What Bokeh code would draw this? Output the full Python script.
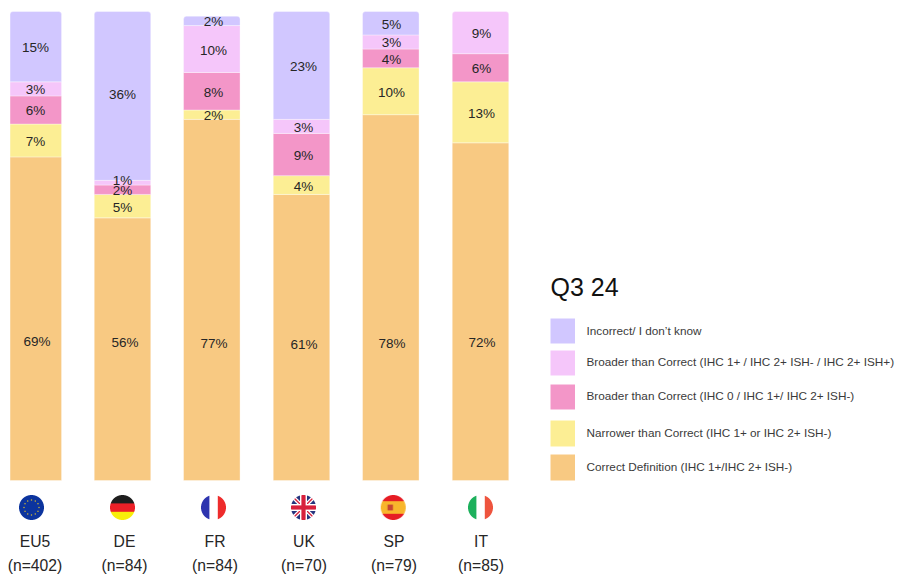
import numpy as np
from bokeh.embed import file_html
from bokeh.resources import INLINE
from bokeh.plotting import figure
from bokeh.models import Range1d, ColumnDataSource
from bokeh.core.properties import value

# ---- data ----
categories = ["EU5", "DE", "FR", "UK", "SP", "IT"]
sample_sizes = ["(n=402)", "(n=84)", "(n=84)", "(n=70)", "(n=79)", "(n=85)"]
correct = [69, 56, 77, 61, 78, 72]
narrower = [7, 5, 2, 4, 10, 13]
broader_ihc0 = [6, 2, 8, 9, 4, 6]
broader_ihc1 = [3, 1, 10, 3, 3, 9]
incorrect = [15, 36, 2, 23, 5, 0]
series_names = [
    "Correct Definition (IHC 1+/IHC 2+ ISH-)",
    "Narrower than Correct (IHC 1+ or IHC 2+ ISH-)",
    "Broader than Correct (IHC 0 / IHC 1+/ IHC 2+ ISH-)",
    "Broader than Correct (IHC 1+ / IHC 2+ ISH- / IHC 2+ ISH+)",
    "Incorrect/ I don\u2019t know",
]
series_values = [correct, narrower, broader_ihc0, broader_ihc1, incorrect]
legend_title = "Q3 24"

# ---- layout and style ----
W, H = 895, 574
OX, OY = 1, 1
BASE_Y, PX_PER_PCT = 481, 4.69
colors = ["#F8C982", "#FCEE94", "#F396C8", "#F5C6FA", "#D1C7FF"]
bar_centers = [36.3, 123, 212.3, 302, 391.3, 481]
bar_widths = [51.5, 56.5, 56.5, 56.5, 56.5, 56.5]
value_label_x = [36, 123, 214, 304, 392, 482]
bottom_label_x = [37.5, 125.5, 214.5, 304.5, 392.5, 482.5]
bottom_label_y = [341, 342, 343, 344, 343, 342]
name_label_x = [35.5, 125, 215.5, 304.5, 394.5, 481.5]
flag_x = [32, 123, 214, 304, 393.7, 481]
FLAG_Y, FLAG_D = 508, 25
swatch_tops = [455, 421, 385, 351, 319]
swatch_bottoms = [481, 447, 410, 376, 344]
legend_text_y = [467, 433, 396, 362, 331]
FONT = value("Liberation Sans")
INK = "#262626"


def px_x(x):
    return x - OX


def px_y(y):
    return OY + H - y


p = figure(
    width=W, height=H, output_backend="svg", toolbar_location=None,
    x_range=Range1d(0, W),
    y_range=Range1d((BASE_Y - (OY + H)) / PX_PER_PCT, (BASE_Y - OY) / PX_PER_PCT),
    min_border=0, outline_line_color=None, background_fill_color="white",
)
p.extra_y_ranges = {"px": Range1d(0, H)}
p.xaxis.visible = False
p.yaxis.visible = False
p.grid.visible = False

# ---- stacked bars: the topmost segment of each bar has rounded corners ----
bottoms = np.zeros(len(categories))
xs = np.array([px_x(c) for c in bar_centers])
widths = np.array(bar_widths)
top_series = [max(i for i, s in enumerate(series_values) if s[k] > 0) for k in range(len(categories))]
labels = dict(x=[], y=[], t=[], dy=[])
for i, (vals, col) in enumerate(zip(series_values, colors)):
    vals = np.array(vals, dtype=float)
    tops = bottoms + vals
    plain = [k for k in range(len(vals)) if vals[k] > 0 and top_series[k] != i]
    capped = [k for k in range(len(vals)) if vals[k] > 0 and top_series[k] == i]
    for idx, radius in ((plain, 0), (capped, (3, 3, 0, 0))):
        if idx:
            p.vbar(x=xs[idx], width=widths[idx], bottom=bottoms[idx], top=tops[idx],
                   fill_color=col, line_color="white", line_alpha=0.35, line_width=1,
                   border_radius=radius)
    for k in range(len(vals)):
        if vals[k] <= 0:
            continue
        if i == 0:
            labels["x"].append(px_x(bottom_label_x[k]))
            labels["y"].append((BASE_Y - bottom_label_y[k]) / PX_PER_PCT)
            labels["dy"].append(1)
        else:
            labels["x"].append(px_x(value_label_x[k]))
            labels["y"].append((bottoms[k] + tops[k]) / 2)
            labels["dy"].append(-2 if vals[k] <= 1 else (-1 if vals[k] >= 30 else 1))
        labels["t"].append(f"{int(vals[k])}%")
    bottoms = tops

p.text(x="x", y="y", text="t", y_offset="dy", source=ColumnDataSource(labels), text_font=FONT,
       text_font_size="13.5px", text_align="center", text_baseline="middle", text_color=INK)


# ---- flags (decorative, drawn as small antialiased images) ----
def flag(code, d=FLAG_D + 4, ss=5):
    n = d * ss
    yy, xx = np.mgrid[0:n, 0:n]
    u = (xx + 0.5) / n * d - d / 2          # px from centre, right +
    v = (yy + 0.5) / n * d - d / 2          # px from centre, down +
    r = FLAG_D / 2
    img = np.ones((n, n, 3)) * 255.0

    def paint(mask, c):
        img[mask] = c

    if code == "EU5":
        paint(np.ones_like(u, bool), (12, 52, 158))
        for a in np.arange(12) * np.pi / 6:
            paint((u - 7.5 * np.cos(a)) ** 2 + (v - 7.5 * np.sin(a)) ** 2 < 0.55, (190, 170, 60))
    elif code == "DE":
        paint(v < -4.2, (30, 30, 30))
        paint((v >= -4.2) & (v < 4.2), (236, 32, 39))
        paint(v >= 4.2, (248, 238, 10))
    elif code == "FR":
        paint(u < -4.2, (45, 52, 175))
        paint(u >= 4.2, (238, 44, 44))
    elif code == "UK":
        paint(np.ones_like(u, bool), (38, 52, 125))
        paint(np.abs(np.abs(u) - np.abs(v)) < 2.8, (255, 255, 255))
        paint(np.abs(np.abs(u) - np.abs(v)) < 1.0, (216, 32, 60))
        paint((np.abs(u) < 3.6) | (np.abs(v) < 3.6), (255, 255, 255))
        paint((np.abs(u) < 2.1) | (np.abs(v) < 2.1), (216, 32, 60))
    elif code == "SP":
        paint(np.ones_like(u, bool), (230, 28, 36))
        paint(np.abs(v) < 6.3, (248, 182, 44))
        paint((np.abs(u + 3) < 2.6) & (np.abs(v) < 3.0), (200, 70, 50))
    elif code == "IT":
        paint(u < -4.2, (28, 176, 92))
        paint(u >= 4.2, (238, 84, 62))

    alpha = np.where(u ** 2 + v ** 2 <= r ** 2, 255.0, 0.0)
    rgba = np.dstack([img, alpha]).reshape(d, ss, d, ss, 4)
    a = rgba[..., 3:].mean(axis=(1, 3))
    rgb = (rgba[..., :3] * rgba[..., 3:] / 255.0).mean(axis=(1, 3))
    rgb = np.where(a > 0, rgb / np.maximum(a / 255.0, 1e-6), 255.0)
    out = np.dstack([rgb, a]).clip(0, 255).astype(np.uint8)
    res = np.empty((d, d), dtype=np.uint32)
    res.view(dtype=np.uint8).reshape(d, d, 4)[:] = out
    return res[::-1]


D = FLAG_D + 4
for code, fx in zip(categories, flag_x):
    p.image_rgba(image=[flag(code)], x=px_x(fx) - D / 2, y=px_y(FLAG_Y + D / 2), dw=D, dh=D,
                 y_range_name="px")

# ---- category labels ----
p.text(x=[px_x(v) for v in name_label_x], y=[px_y(542)] * 6, text=categories, y_range_name="px",
       text_font=FONT, text_font_size="15.7px", text_align="center", text_baseline="middle", text_color=INK)
p.text(x=[px_x(v) for v in name_label_x], y=[px_y(566)] * 6, text=sample_sizes, y_range_name="px",
       text_font=FONT, text_font_size="15.7px", text_align="center", text_baseline="middle", text_color=INK)

# ---- legend ----
p.text(x=[px_x(551)], y=[px_y(287)], text=[legend_title], y_range_name="px",
       text_font=FONT, text_font_size="25px", text_align="left", text_baseline="middle", text_color="#111111")
p.quad(left=[px_x(551)] * 5, right=[px_x(575.5)] * 5,
       top=[px_y(v) for v in swatch_tops], bottom=[px_y(v) for v in swatch_bottoms],
       fill_color=colors, line_color=None, y_range_name="px")
p.text(x=[px_x(587)] * 5, y=[px_y(v) for v in legend_text_y], text=series_names, y_range_name="px",
       text_font=FONT, text_font_size="11.75px", text_align="left", text_baseline="middle", text_color="#3a3a3a")

open("out.html", "w").write(file_html(p, INLINE))
